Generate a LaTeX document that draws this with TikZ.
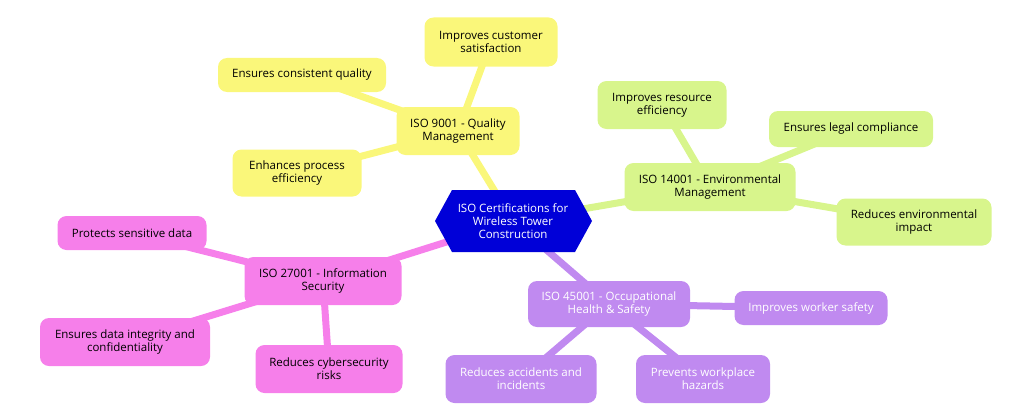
\documentclass[tikz,border=0pt]{standalone}
\usepackage{fontspec}
\setmainfont{Open Sans}
\usetikzlibrary{backgrounds}
\definecolor{yel}{HTML}{FAF77A}
\definecolor{grn}{HTML}{D8F58C}
\definecolor{pnk}{HTML}{F67FEA}
\definecolor{pur}{HTML}{C08AF0}
\definecolor{hub}{HTML}{0000D8}
\begin{document}
\begin{tikzpicture}[x=1pt,y=-1pt,
  box/.style={rounded corners=9pt,inner sep=0pt,align=center,font=\fontsize{11.5}{13}\selectfont},
  lk/.style={line width=7pt}]
\useasboundingbox (0,0) rectangle (1024,412);
\fill[hub] (435,221)--(452,190)--(575,190)--(592,221)--(575,252)--(452,252)--cycle;
\node[text=white,align=center,font=\fontsize{11.5}{13}\selectfont,minimum width=150,minimum height=60] (c) at (513,221) {ISO Certifications for\\Wireless Tower\\Construction};
\node[box,fill=yel,minimum width=123,minimum height=48] (q) at (458,131) {ISO 9001 - Quality\\Management};
\node[box,fill=yel,minimum width=168,minimum height=34] (q1) at (302,75) {Ensures consistent quality};
\node[box,fill=yel,minimum width=133,minimum height=49] (q2) at (491,42) {Improves customer\\satisfaction};
\node[box,fill=yel,minimum width=129,minimum height=47] (q3) at (297,173) {Enhances process\\efficiency};
\node[box,fill=grn,minimum width=171,minimum height=48] (e) at (710,187) {ISO 14001 - Environmental\\Management};
\node[box,fill=grn,minimum width=129,minimum height=48] (e1) at (662,105) {Improves resource\\efficiency};
\node[box,fill=grn,minimum width=164,minimum height=36] (e2) at (851,129) {Ensures legal compliance};
\node[box,fill=grn,minimum width=155,minimum height=47] (e3) at (914,222) {Reduces environmental\\impact};
\node[box,fill=pnk,minimum width=157,minimum height=48] (s) at (323,281) {ISO 27001 - Information\\Security};
\node[box,fill=pnk,minimum width=149,minimum height=34] (s1) at (132,233) {Protects sensitive data};
\node[box,fill=pnk,minimum width=170,minimum height=48] (s2) at (125,342) {Ensures data integrity and\\confidentiality};
\node[box,fill=pnk,minimum width=147,minimum height=48] (s3) at (329,369) {Reduces cybersecurity\\risks};
\node[box,fill=pur,text=white,minimum width=162,minimum height=46] (h) at (609,304) {ISO 45001 - Occupational\\Health \& Safety};
\node[box,fill=pur,text=white,minimum width=153,minimum height=34] (h1) at (811,308) {Improves worker safety};
\node[box,fill=pur,text=white,minimum width=151,minimum height=48] (h2) at (521,379) {Reduces accidents and\\incidents};
\node[box,fill=pur,text=white,minimum width=134,minimum height=48] (h3) at (703,379) {Prevents workplace\\hazards};
\begin{scope}[on background layer]
\draw[lk,yel] (c.center)--(q.center) (q.center)--(q1.center) (q.center)--(q2.center) (q.center)--(q3.center);
\draw[lk,grn] (c.center)--(e.center) (e.center)--(e1.center) (e.center)--(e2.center) (e.center)--(e3.center);
\draw[lk,pnk] (c.center)--(s.center) (s.center)--(s1.center) (s.center)--(s2.center) (s.center)--(s3.center);
\draw[lk,pur] (c.center)--(h.center) (h.center)--(h1.center) (h.center)--(h2.center) (h.center)--(h3.center);
\end{scope}
\end{tikzpicture}
\end{document}
